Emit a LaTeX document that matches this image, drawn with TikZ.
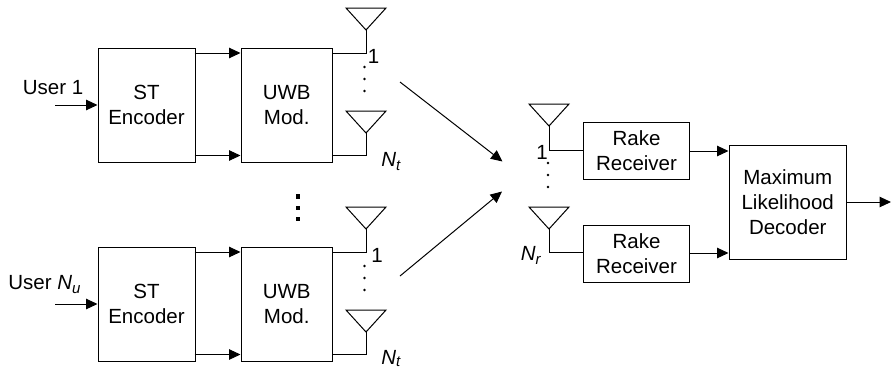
\documentclass[tikz,border=0pt]{standalone}
\usepackage{fontspec}
\setmainfont{Liberation Sans}
\usetikzlibrary{arrows.meta}
\tikzset{
 x=1pt,y=-1pt,
 wire/.style={line width=1pt,line join=miter},
 arr/.style={wire,-{Triangle[length=11.5pt,width=10.5pt]}},
 blk/.style={draw,line width=1pt,inner sep=0pt,anchor=north west,align=center,font=\lbl},
 lab/.style={inner sep=0pt,font=\lbl},
 tdot/.style={fill,circle,inner sep=0pt,minimum size=2.6pt},
 bdot/.style={fill,inner sep=0pt,minimum size=4.4pt},
}
\newcommand{\lbl}{\fontsize{20.5}{25}\selectfont}
\newcommand{\antenna}[2]{\draw[wire] (#1-20,#2-22) -- (#1+20,#2-22) -- (#1,#2) -- cycle;}
\begin{document}
\begin{tikzpicture}
\useasboundingbox (0,0) rectangle (891,368);
\foreach \d/\nm/\onex in {0/a/373.5,199/b/377}{
 \begin{scope}[yshift=-\d pt]
 \node[blk,minimum width=97pt,minimum height=114pt] (st\nm) at (97.5,47.5) {ST\\Encoder};
 \node[blk,minimum width=91.5pt,minimum height=114pt] (uw\nm) at (240.5,47.5) {UWB\\Mod.};
 \coordinate (in\nm) at (55,105);
 \draw[arr] (in\nm) -- (in\nm -| st\nm.west);
 \coordinate (p\nm) at (194.5,53);
 \coordinate (q\nm) at (194.5,155.5);
 \draw[arr] (p\nm) -- (p\nm -| uw\nm.west);
 \draw[arr] (q\nm) -- (q\nm -| uw\nm.west);
 \antenna{366}{30}
 \antenna{366}{133}
 \coordinate (t\nm) at (366,30);
 \coordinate (u\nm) at (366,133);
 \draw[wire] (t\nm) |- (uw\nm.east |- p\nm);
 \draw[wire] (u\nm) |- (uw\nm.east |- q\nm);
 \node[tdot] (d1\nm) at (364.5,67) {};
 \node[tdot] (d2\nm) at (364.5,79) {};
 \node[tdot] (d3\nm) at (364.5,91) {};
 \node[lab] (one\nm) at (\onex,56) {1};
 \end{scope}
}
\node[lab] (nta) at (391,162) {\textit{N}\raisebox{-4pt}{\fontsize{15}{15}\selectfont\textit{t}}};
\node[lab] (ntb) at (391,358.5) {\textit{N}\raisebox{-2.5pt}{\fontsize{15}{15}\selectfont\textit{t}}};
\node[lab] (u1) at (53,88) {User 1};
\node[lab] (un) at (44.5,285) {User \textit{N}\raisebox{-4pt}{\fontsize{15}{15}\selectfont\textit{u}}};
\node[bdot] (b1) at (298,196.5) {};
\node[bdot] (b2) at (298,208) {};
\node[bdot] (b3) at (298,219) {};
\coordinate (s1) at (400,82);
\coordinate (e1) at (502.5,161.5);
\coordinate (s2) at (400,276);
\coordinate (e2) at (502,191.5);
\draw[arr] (s1) -- (e1);
\draw[arr] (s2) -- (e2);
% receiver
\node[blk,minimum width=106pt,minimum height=57pt] (r1) at (583,122) {Rake\\Receiver};
\node[blk,minimum width=106pt,minimum height=57pt] (r2) at (583,225) {Rake\\Receiver};
\node[blk,minimum width=117.5pt,minimum height=114pt] (ml) at (728.5,145) {Maximum\\Likelihood\\Decoder};
\antenna{549}{126}
\antenna{549}{229}
\coordinate (ra) at (549,126);
\coordinate (rb) at (549,229);
\coordinate (wa) at (583,150);
\coordinate (wb) at (583,252.5);
\draw[wire] (ra) |- (wa);
\draw[wire] (rb) |- (wb);
\coordinate (oa) at (689,151);
\coordinate (ob) at (689,253);
\draw[arr] (oa) -- (oa -| ml.west);
\draw[arr] (ob) -- (ob -| ml.west);
\coordinate (end) at (891,202);
\draw[arr] (ml.east |- end) -- (end);
\node[tdot] (r1d) at (548,163) {};
\node[tdot] (r2d) at (548,175) {};
\node[tdot] (r3d) at (548,187) {};
\node[lab] (rone) at (542,152) {1};
\node[lab] (nr) at (531,255) {\textit{N}\raisebox{-4pt}{\fontsize{15}{15}\selectfont\textit{r}}};
\end{tikzpicture}
\end{document}
